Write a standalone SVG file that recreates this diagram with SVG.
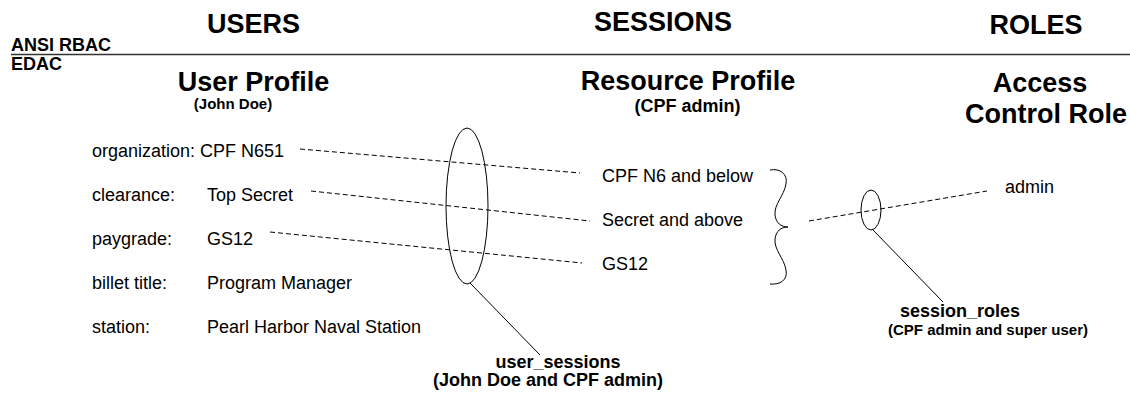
<svg xmlns="http://www.w3.org/2000/svg" width="1130" height="395" viewBox="0 0 1130 395">
<style>
text { font-family: "Liberation Sans", Arial, sans-serif; fill: #000; }
.h { font-size: 27px; font-weight: bold; }
.s { font-size: 15px; font-weight: bold; }
.m { font-size: 18px; font-weight: bold; }
.t { font-size: 18px; }
.d { stroke: #000; stroke-width: 1; stroke-dasharray: 5 3; fill: none; }
.l { stroke: #000; stroke-width: 1; fill: none; }
</style>
<rect width="1130" height="395" fill="#fff"/>
<g id="header">
<text class="h" x="253.5" y="33" text-anchor="middle">USERS</text>
<text class="h" x="663" y="31" text-anchor="middle">SESSIONS</text>
<text class="h" x="1036" y="34" text-anchor="middle">ROLES</text>
<text class="m" x="11" y="51">ANSI RBAC</text>
<text class="m" x="11" y="70">EDAC</text>
<line x1="11" y1="54.5" x2="1130" y2="54.5" stroke="#333" stroke-width="1.5"/>
</g>
<g id="user-profile">
<text class="h" x="253.5" y="91" text-anchor="middle">User Profile</text>
<text class="s" x="233" y="109" text-anchor="middle">(John Doe)</text>
<text class="t" x="92" y="157">organization: CPF N651</text>
<text class="t" x="92" y="201">clearance:</text>
<text class="t" x="207" y="201">Top Secret</text>
<text class="t" x="92" y="245">paygrade:</text>
<text class="t" x="207" y="245">GS12</text>
<text class="t" x="92" y="289">billet title:</text>
<text class="t" x="207" y="289">Program Manager</text>
<text class="t" x="92" y="333">station:</text>
<text class="t" x="207" y="333">Pearl Harbor Naval Station</text>
</g>
<g id="resource-profile">
<text class="h" x="688" y="90" text-anchor="middle">Resource Profile</text>
<text class="m" x="687.5" y="112" text-anchor="middle">(CPF admin)</text>
<text class="t" x="602" y="182">CPF N6 and below</text>
<text class="t" x="602" y="226">Secret and above</text>
<text class="t" x="602" y="270">GS12</text>
<path class="l" d="M770,170 C780,168 788,174 786,184 C784,196 774,204 775,215 C776,223 781,227 788,227 C781,227 776,231 775,239 C774,250 784,258 786,270 C788,280 780,285 770,284"/>
</g>
<g id="role">
<text class="h" x="1040" y="92" text-anchor="middle">Access</text>
<text class="h" x="1046" y="123" text-anchor="middle">Control Role</text>
<text class="t" x="1005" y="193">admin</text>
</g>
<g id="user-sessions">
<ellipse class="l" cx="467" cy="206" rx="21" ry="78"/>
<text class="m" x="558" y="368" text-anchor="middle">user_sessions</text>
<text class="m" x="548" y="386" text-anchor="middle">(John Doe and CPF admin)</text>
</g>
<g id="session-roles">
<ellipse class="l" cx="871" cy="210" rx="10" ry="20"/>
<text class="m" x="900" y="317">session_roles</text>
<text class="s" x="888" y="335">(CPF admin and super user)</text>
</g>
<g id="connectors">
<line class="d" x1="300" y1="149" x2="580" y2="173"/>
<line class="d" x1="311" y1="191" x2="590" y2="221"/>
<line class="d" x1="270" y1="232" x2="582" y2="263"/>
<line class="d" x1="809" y1="221" x2="987" y2="191"/>
<line class="l" x1="470" y1="283" x2="540" y2="355"/>
<line class="l" x1="873" y1="230" x2="943" y2="302"/>
</g>
</svg>
